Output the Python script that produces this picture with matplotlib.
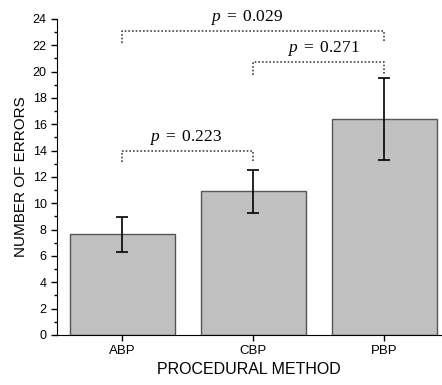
import matplotlib
matplotlib.use('Agg')
import matplotlib.pyplot as plt
from matplotlib.ticker import MultipleLocator

plt.rcParams['mathtext.fontset'] = 'custom'
plt.rcParams['mathtext.rm'] = 'Liberation Serif'
plt.rcParams['mathtext.it'] = 'Liberation Serif:italic'

# data
methods = ['ABP', 'CBP', 'PBP']
errors = [7.65, 10.95, 16.4]
err_low = [1.35, 1.7, 3.1]
err_high = [1.3, 1.6, 3.1]

# significance brackets: (left index, right index, top y, drop y, label)
brackets = [
    (0, 1, 14.0, 13.1, '0.223'),
    (1, 2, 20.7, 19.75, '0.271'),
    (0, 2, 23.1, 22.2, '0.029'),
]
text_dx = [-0.02, 0.04, -0.05]

fig = plt.figure(figsize=(4.42, 3.85), dpi=100)
ax = fig.add_axes([0.129, 0.13, 0.869, 0.821])

x = list(range(len(methods)))
ax.bar(x, errors, width=0.8, color='#c0c0c0', edgecolor='#555555', linewidth=1.0, zorder=2)
ax.errorbar(x, errors, yerr=[err_low, err_high], fmt='none', ecolor='black',
            elinewidth=1.2, capsize=4, capthick=1.2, zorder=3)

for (i0, i1, top, drop, pval), dx in zip(brackets, text_dx):
    ax.plot([i0, i0, i1, i1], [drop, top, top, drop], color='#444444',
            linestyle=(0, (1, 1.2)), linewidth=1.2, clip_on=False)
    ax.text((i0 + i1) / 2 + dx, top + 0.3, r'$p\ =\ \mathrm{' + pval + '}$',
            ha='center', va='bottom', fontsize=12.5)

ax.set_xlim(-0.5, 2.435)
ax.set_ylim(0, 24)
ax.set_xticks(x)
ax.set_xticklabels(methods, family='Liberation Sans', fontsize=9.5)
ax.yaxis.set_major_locator(MultipleLocator(2))
ax.yaxis.set_minor_locator(MultipleLocator(1))
for lab in ax.get_yticklabels():
    lab.set_family('Liberation Sans')
    lab.set_fontsize(9)
ax.tick_params(axis='both', which='major', direction='out', length=4, width=1)
ax.tick_params(axis='y', which='minor', direction='out', length=2.5, width=1)
ax.spines['top'].set_visible(False)
ax.spines['right'].set_visible(False)
ax.set_xlabel('PROCEDURAL METHOD', family='Liberation Sans', fontsize=11.5, labelpad=3)
ax.set_ylabel('NUMBER OF ERRORS', family='Liberation Sans', fontsize=11, labelpad=3)

fig.savefig('out.png', dpi=100)
